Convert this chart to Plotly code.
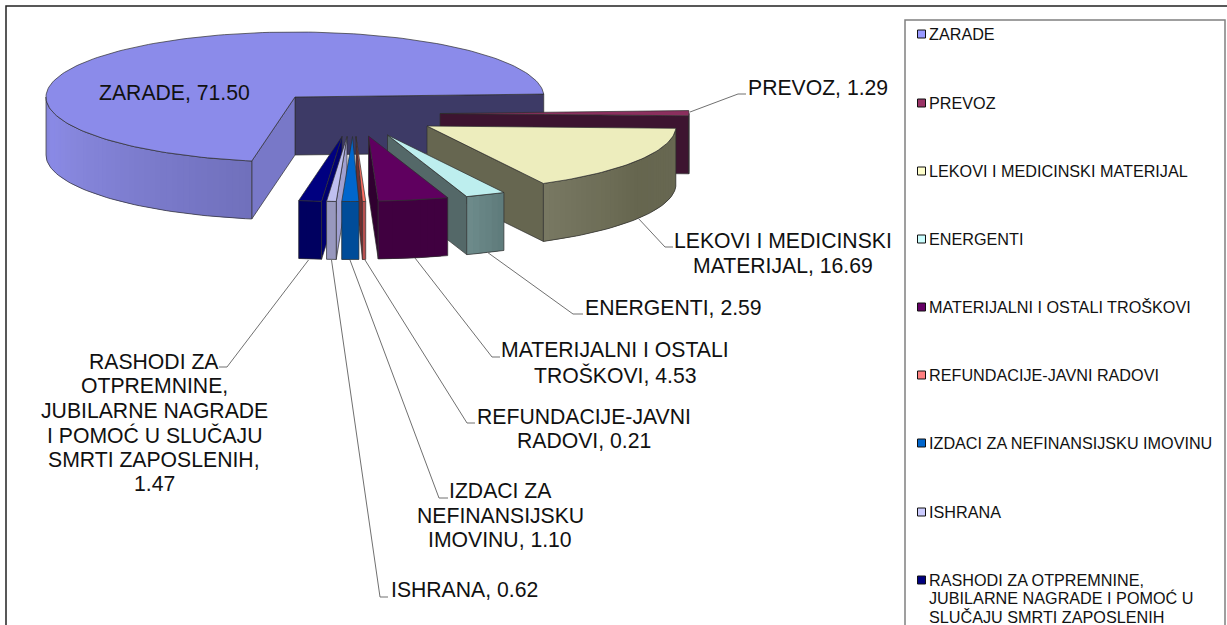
import math
import plotly.graph_objects as go

# ---- data ----
categories = ["ZARADE", "PREVOZ", "LEKOVI I MEDICINSKI MATERIJAL", "ENERGENTI",
              "MATERIJALNI I OSTALI TROŠKOVI", "REFUNDACIJE-JAVNI RADOVI",
              "IZDACI ZA NEFINANSIJSKU IMOVINU", "ISHRANA",
              "RASHODI ZA OTPREMNINE, JUBILARNE NAGRADE I POMOĆ U SLUČAJU SMRTI ZAPOSLENIH"]
values = [71.50, 1.29, 16.69, 2.59, 4.53, 0.21, 1.10, 0.62, 1.47]
label_templates = [
    ["ZARADE, {v}"],
    ["PREVOZ, {v}"],
    ["LEKOVI I MEDICINSKI", "MATERIJAL, {v}"],
    ["ENERGENTI, {v}"],
    ["MATERIJALNI I OSTALI", "TROŠKOVI, {v}"],
    ["REFUNDACIJE-JAVNI", "RADOVI, {v}"],
    ["IZDACI ZA", "NEFINANSIJSKU", "IMOVINU, {v}"],
    ["ISHRANA, {v}"],
    ["RASHODI ZA", "OTPREMNINE,", "JUBILARNE NAGRADE", "I POMOĆ U SLUČAJU", "SMRTI ZAPOSLENIH,", "{v}"],
]
legend_lines = [
    ["ZARADE"], ["PREVOZ"], ["LEKOVI I MEDICINSKI MATERIJAL"], ["ENERGENTI"],
    ["MATERIJALNI I OSTALI TROŠKOVI"], ["REFUNDACIJE-JAVNI RADOVI"],
    ["IZDACI ZA NEFINANSIJSKU IMOVINU"], ["ISHRANA"],
    ["RASHODI ZA OTPREMNINE,", "JUBILARNE NAGRADE I POMOĆ U", "SLUČAJU SMRTI ZAPOSLENIH"],
]

# ---- style ----
swatch = ["#9999FF", "#993366", "#FFFFCC", "#CCFFFF", "#660066", "#FF8080", "#0066CC", "#CCCCFF", "#000080"]
top_col = ["#8B8BEA", "#8B2F5E", "#EDEDBD", "#BDEEEE", "#5F005F", "#FF6F62", "#0066CC", "#BFBFEF", "#000080"]
start_side_col = ["#7878C8", "#3D1430", "#666650", "#546868", "#300030", "#6F3030", "#004C99", "#A0A0D0", "#000070"]
end_side_col = ["#3D3A66", "#3D1430", "#666650", "#546868", "#300030", "#6F3030", "#004C99", "#A0A0D0", "#000070"]
wall_stops = [
    [(0.0, "#7070BC"), (0.65, "#8686DC"), (0.85, "#8A8AE6"), (1.0, "#8080D0")],
    [(0, "#3D1430"), (1, "#3D1430")],
    [(0.0, "#686852"), (0.5, "#66664F"), (1.0, "#787862")],
    [(0.0, "#5E7A7A"), (1.0, "#6E8C8C")],
    [(0, "#400040"), (1, "#400040")],
    [(0, "#B85050"), (1, "#B85050")],
    [(0, "#004C99"), (1, "#004C99")],
    [(0, "#9898BE"), (1, "#9898BE")],
    [(0, "#000060"), (1, "#000060")],
]
OUTLINE = "#2E2E2E"
LEADER = "#707070"
FONT = "Liberation Sans"

# ---- layout geometry ----
first_angle = 190.0
rx, ry, depth = 249, 65, 58
centers = [(295, 97), (440, 113.5), (427, 126), (387.5, 135), (368.5, 136), (356, 136.5), (352.5, 136.5), (347, 136.5), (342, 136.5)]
draw_order = [0, 1, 2, 3, 4, 5, 8, 7, 6]
label_pos = [
    (174, [92.5]), (817.5, [87.5]), (783, [240.5, 265.5]), (673, [307.5]), (615, [349.5, 374.5]),
    (584, [416.5, 440.5]), (500, [490.5, 515.5, 539.5]), (464, [589.5]), (154, [361.5, 385.5, 410.5, 434.5, 459.5, 483.5]),
]
leaders = [
    None,
    [(690, 112), (738, 94), (746, 94)],
    [(638, 218), (665, 247), (673, 247)],
    [(487, 252), (573, 314), (583, 314)],
    [(415, 258), (492, 357), (500, 357)],
    [(365, 260), (467, 423), (475, 423)],
    [(350, 260), (439, 498), (448, 498)],
    [(331.5, 260), (380, 597), (388, 597)],
    [(308.5, 260), (227, 367), (219, 367)],
]
legend_y = [34, 103, 171, 239, 307, 375, 443, 512, 580]
legend_step = 18.4


def hexmix(stops, f):
    for (a, ca), (b, cb) in zip(stops, stops[1:]):
        if f <= b:
            k = 0 if b == a else (f - a) / (b - a)
            c1 = [int(ca[i:i + 2], 16) for i in (1, 3, 5)]
            c2 = [int(cb[i:i + 2], 16) for i in (1, 3, 5)]
            return "rgb({},{},{})".format(*[round(p + (q - p) * k) for p, q in zip(c1, c2)])
    return stops[-1][1]


def arc_pt(c, t):
    r = math.radians(t)
    return c[0] + rx * math.sin(r), c[1] - ry * math.cos(r)


fig = go.Figure()


def poly(pts, fill, line=OUTLINE, width=0.7):
    xs = [p[0] for p in pts] + [pts[0][0]]
    ys = [p[1] for p in pts] + [pts[0][1]]
    fig.add_trace(go.Scatter(x=xs, y=ys, mode="lines", fill="toself", fillcolor=fill,
                             line=dict(color=line, width=width), hoverinfo="skip", showlegend=False))


total = sum(values)
starts, cum = [], first_angle
for v in values:
    starts.append(cum % 360)
    cum += v / total * 360

for i in draw_order:
    a0 = starts[i]
    a1 = a0 + values[i] / total * 360
    c = centers[i]
    down = lambda p: (p[0], p[1] + depth)
    # radial side faces visible from the front
    if math.sin(math.radians(a1)) > 0:
        e = arc_pt(c, a1)
        poly([c, e, down(e), down(c)], end_side_col[i])
    if math.sin(math.radians(a0)) < 0:
        e = arc_pt(c, a0)
        poly([c, e, down(e), down(c)], start_side_col[i])
    # curved outer wall, only the part facing the viewer (90..270 degrees)
    w0, w1 = max(a0, 90), min(a1, 270)
    if w1 > w0:
        n = max(2, int((w1 - w0) / 1.5))
        ts = [w0 + (w1 - w0) * k / n for k in range(n + 1)]
        for k in range(n):
            # each strip overlaps the next one so that no seam shows between them
            pa, pb = arc_pt(c, ts[k]), arc_pt(c, ts[min(k + 2, n)])
            col = hexmix(wall_stops[i], (k + 0.5) / n)
            poly([pa, pb, down(pb), down(pa)], col, line=col, width=0)
        top_pts = [arc_pt(c, x) for x in ts]
        outline = top_pts + [down(p) for p in reversed(top_pts)] + [top_pts[0]]
        fig.add_trace(go.Scatter(x=[p[0] for p in outline], y=[p[1] for p in outline], mode="lines",
                                 line=dict(color=OUTLINE, width=0.7), hoverinfo="skip", showlegend=False))
    # top face
    n = max(2, int((a1 - a0) / 1.5))
    poly([c] + [arc_pt(c, a0 + (a1 - a0) * k / n) for k in range(n + 1)], top_col[i])

# leader lines
for pts in leaders:
    if pts:
        fig.add_trace(go.Scatter(x=[p[0] for p in pts], y=[p[1] for p in pts], mode="lines",
                                 line=dict(color=LEADER, width=1), hoverinfo="skip", showlegend=False))

annotations = []
for v, lines, (cx, ys) in zip(values, label_templates, label_pos):
    for ln, y in zip(lines, ys):
        annotations.append(dict(x=cx, y=y, xref="x", yref="y", text=ln.format(v=f"{v:.2f}"), showarrow=False,
                                xanchor="center", yanchor="middle", font=dict(family=FONT, size=21.2, color="#111111")))

# legend
fig.add_trace(go.Scatter(x=[921.5] * len(categories), y=legend_y, mode="markers", text=categories,
                         marker=dict(symbol="square", size=8, color=swatch, line=dict(color="#111111", width=1)),
                         hoverinfo="text", showlegend=False))
for lines, y0 in zip(legend_lines, legend_y):
    for j, ln in enumerate(lines):
        annotations.append(dict(x=929, y=y0 + j * legend_step, xref="x", yref="y", text=ln, showarrow=False,
                                xanchor="left", yanchor="middle", xshift=-2,
                                font=dict(family=FONT, size=16.2, color="#111111")))

fig.update_layout(
    width=1227, height=625, margin=dict(l=0, r=0, t=0, b=0),
    paper_bgcolor="white", plot_bgcolor="white", showlegend=False,
    xaxis=dict(range=[0, 1227], visible=False, fixedrange=True),
    yaxis=dict(range=[625, 0], visible=False, fixedrange=True),
    annotations=annotations,
    shapes=[
        dict(type="rect", xref="x", yref="y", x0=6, y0=6, x1=1300, y1=700,
             line=dict(color="#222222", width=1.5), layer="below"),
        dict(type="rect", xref="x", yref="y", x0=905, y0=20, x1=1225, y1=700,
             line=dict(color="#808080", width=1.5), layer="below"),
    ],
)
fig.write_html("out.html", config={"displayModeBar": False},
               post_script="document.body.style.margin='0';document.body.style.overflow='hidden';")
